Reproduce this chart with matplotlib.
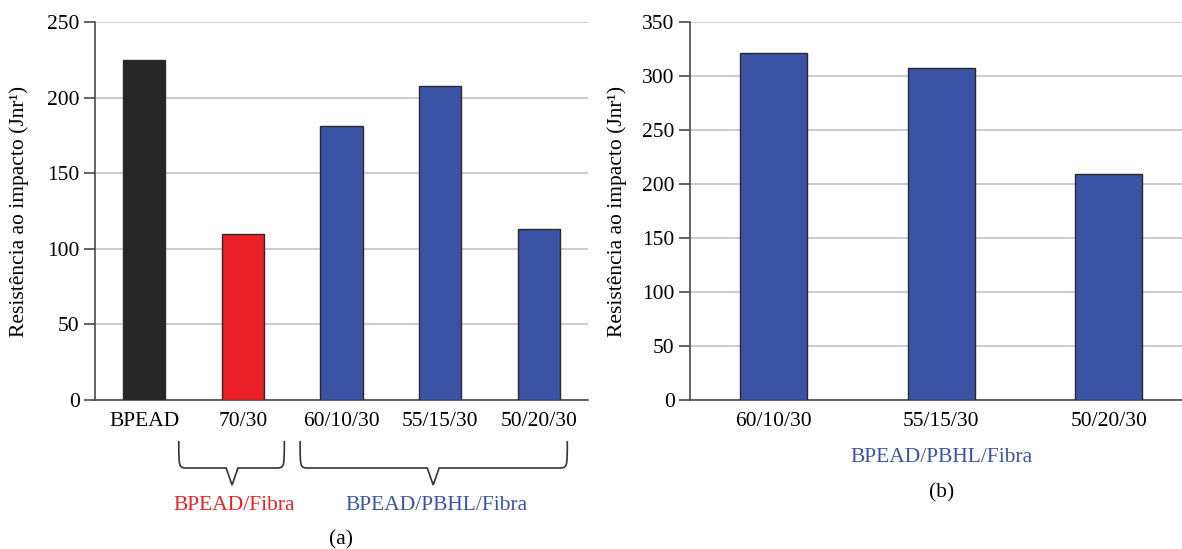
import matplotlib.pyplot as plt
from matplotlib.path import Path
from matplotlib.patches import PathPatch
from matplotlib.transforms import blended_transform_factory

plt.rcParams["font.family"] = ["Liberation Serif", "DejaVu Serif"]

# (a) blends with and without PBHL
cats_a = ["BPEAD", "70/30", "60/10/30", "55/15/30", "50/20/30"]
vals_a = [225, 110, 181, 208, 113]
colors_a = ["#262626", "#ED2027", "#3A53A4", "#3A53A4", "#3A53A4"]

# (b) BPEAD/PBHL/Fibra only
cats_b = ["60/10/30", "55/15/30", "50/20/30"]
vals_b = [321, 307, 209]

BLUE = "#3A53A4"
RED = "#ED2027"
YLABEL = "Resistência ao impacto (Jnr¹)"
FS = 15.5

fig = plt.figure(figsize=(11.82, 5.49), dpi=100)
W, H = 1182, 549


def px(x0, y0, x1, y1):
    # pixel box (top-left origin) -> figure fraction rect
    return [x0 / W, 1 - y1 / H, (x1 - x0) / W, (y1 - y0) / H]


def style(ax, ymax, step):
    ax.set_ylim(0, ymax)
    ax.set_yticks(range(0, ymax + 1, step))
    ax.yaxis.grid(True, color="#c4c4c4", linewidth=1.2)
    ax.set_axisbelow(True)
    for s in ("top", "right"):
        ax.spines[s].set_visible(False)
    for s in ("left", "bottom"):
        ax.spines[s].set_color("#4a4a4a")
        ax.spines[s].set_linewidth(1.2)
    ax.tick_params(axis="y", length=8, width=1.2, color="#4a4a4a",
                   labelsize=FS, pad=3)
    ax.tick_params(axis="x", length=0, labelsize=FS, pad=9)
    ax.set_ylabel(YLABEL, fontsize=FS)


ax1 = fig.add_axes(px(95, 22, 588, 400))
x1 = range(len(cats_a))
ax1.bar(x1, vals_a, width=0.43, color=colors_a, edgecolor="#2a2a2a",
        linewidth=1.0, zorder=3)
ax1.set_xticks(list(x1))
ax1.set_xticklabels(cats_a)
ax1.set_xlim(-0.5, len(cats_a) - 0.5)
style(ax1, 250, 50)
ax1.yaxis.set_label_coords(-0.134, 0.5)

ax2 = fig.add_axes(px(690, 22, 1182, 400))
x2 = range(len(cats_b))
ax2.bar(x2, vals_b, width=0.4, color=BLUE, edgecolor="#2a2a2a",
        linewidth=1.0, zorder=3)
ax2.set_xticks(list(x2))
ax2.set_xticklabels(cats_b)
ax2.set_xlim(-0.5, -0.5 + 492 / 167.5)
style(ax2, 350, 50)
ax2.yaxis.set_label_coords(-0.128, 0.5)


def brace(ax, xa, xb, xt, y_top, y_mid, y_tip):
    # curly brace under the tick labels: x in data units, y in figure fraction
    tr = blended_transform_factory(ax.transData, fig.transFigure)
    r = 0.09
    v = 0.06
    verts = [
        (xa, y_top), (xa, y_mid), (xa, y_mid), (xa + r, y_mid),
        (xt - v, y_mid), (xt, y_tip), (xt + v, y_mid),
        (xb - r, y_mid), (xb, y_mid), (xb, y_mid), (xb, y_top),
    ]
    codes = [Path.MOVETO, Path.CURVE4, Path.CURVE4, Path.CURVE4,
             Path.LINETO, Path.LINETO, Path.LINETO,
             Path.LINETO, Path.CURVE4, Path.CURVE4, Path.CURVE4]
    ax.add_patch(PathPatch(Path(verts, codes), transform=tr, fill=False,
                           edgecolor="#333333", linewidth=1.2, clip_on=False))


yt, ym, yp = 1 - 441 / H, 1 - 468 / H, 1 - 485 / H
brace(ax1, 0.35, 1.42, 0.89, yt, ym, yp)
brace(ax1, 1.58, 4.29, 2.93, yt, ym, yp)

fig.text(234 / W, 1 - 506 / H, "BPEAD/Fibra", color=RED, fontsize=FS,
         ha="center", va="center")
fig.text(437 / W, 1 - 506 / H, "BPEAD/PBHL/Fibra", color=BLUE, fontsize=FS,
         ha="center", va="center")
fig.text(341 / W, 1 - 540 / H, "(a)", fontsize=FS, ha="center", va="center")

fig.text(942 / W, 1 - 458 / H, "BPEAD/PBHL/Fibra", color=BLUE, fontsize=FS,
         ha="center", va="center")
fig.text(942 / W, 1 - 493 / H, "(b)", fontsize=FS, ha="center", va="center")

fig.savefig("out.png", dpi=100)
